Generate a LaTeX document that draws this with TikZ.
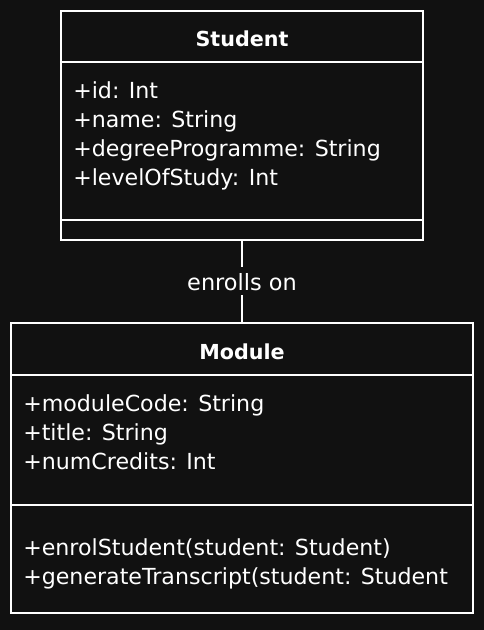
\documentclass[tikz,border=0pt]{standalone}
\usepackage{fontspec}
\setmainfont{DejaVu Sans}
\usetikzlibrary{positioning}
\definecolor{bgdark}{HTML}{111111}

\begin{document}
\begin{tikzpicture}[x=0.75pt,y=-0.75pt,
  classbox/.style={draw=white,line width=1.5pt,inner sep=0pt,outer sep=0pt},
  classline/.style={draw=white,line width=1.5pt},
  title/.style={text=white,font=\fontsize{15.5}{18}\selectfont\bfseries,anchor=base,inner sep=0pt},
  member/.style={text=white,font=\fontsize{16.6}{20}\selectfont,anchor=base west,inner sep=0pt},
  lbl/.style={text=white,font=\fontsize{16.8}{20}\selectfont,fill=bgdark,inner sep=0pt,
    text height=17.25pt,text depth=3.75pt}]
  \fill[bgdark] (0,0) rectangle (484,630);
  \useasboundingbox (0,0) rectangle (484,630);
  % Student
  \node[classbox,minimum width=271.5pt,minimum height=171.75pt] (student) at (242,125.5) {};
  \draw[classline] (student.west |- 0,62.5) -- (student.east |- 0,62.5);
  \draw[classline] (student.west |- 0,220.5) -- (student.east |- 0,220.5);
  \node[title] (studentname) at (242,47) {Student};
  \foreach \t [count=\i] in {+id: Int,+name: String,+degreeProgramme: String,+levelOfStudy: Int}
    \node[member] (sattr\i) at (73,70+29*\i) {\t};
  % Module
  \node[classbox,minimum width=346.5pt,minimum height=217.5pt] (module) at (242,467.75) {};
  \draw[classline] (module.west |- 0,375) -- (module.east |- 0,375);
  \draw[classline] (module.west |- 0,504.75) -- (module.east |- 0,504.75);
  \node[title] (modulename) at (242,359) {Module};
  \foreach \t [count=\i] in {+moduleCode: String,+title: String,+numCredits: Int}
    \node[member] (mattr\i) at (23,382+29*\i) {\t};
  \foreach \t [count=\i] in {+enrolStudent(student: Student),+generateTranscript(student: Student}
    \node[member] (mop\i) at (23,526+29*\i) {\t};
  % association
  \draw[classline] (student.south) -- node[lbl] (assoc) {enrolls on} (module.north);
\end{tikzpicture}
\end{document}
